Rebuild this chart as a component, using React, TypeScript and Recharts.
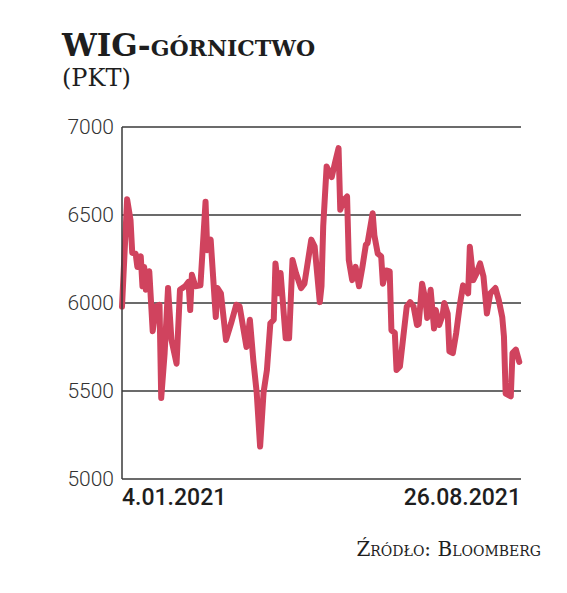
import { LineChart, Line, XAxis, YAxis, CartesianGrid } from 'recharts';

// trading-day offsets (calendar days since 4.01.2021) and index values in points
const days = [
  0, 3, 5, 6, 8, 9, 11, 12, 13, 14, 16, 18, 20, 22, 23, 25, 27, 29, 32, 34, 37, 39, 40, 41, 43, 46, 49, 50,
  52, 55, 56, 58, 61, 64, 67, 69, 71, 73, 75, 77, 79, 81, 83, 85, 87, 89, 90, 92, 93, 96, 98, 100, 102,
  105, 107, 111, 113, 116, 117, 118, 120, 123, 125, 127, 128, 130, 132, 133, 135, 137, 139, 141, 143, 144,
  147, 148, 150, 152, 153, 155, 157, 158, 160, 161, 163, 165, 167, 169, 171, 173, 174, 176, 178, 179, 181,
  183, 184, 186, 188, 189, 191, 192, 194, 196, 198, 200, 203, 204, 206, 208, 210, 212, 214, 216, 219, 221,
  223, 224, 225, 228, 229, 231, 233,
];
const values = [
  5980, 6590, 6470, 6285, 6280, 6205, 6265, 6095, 6205, 6075, 6180, 5840, 5980, 5990, 5460, 5715, 6085,
  5790, 5655, 6075, 6095, 6120, 5960, 6160, 6095, 6100, 6575, 6300, 6360, 5920, 6085, 6055, 5790, 5885,
  5990, 5980, 5865, 5750, 5905, 5675, 5490, 5185, 5490, 5620, 5885, 5905, 6225, 6055, 6170, 5800, 5800,
  6245, 6170, 6085, 6110, 6360, 6320, 6005, 6095, 6435, 6775, 6715, 6800, 6880, 6530, 6585, 6605, 6245,
  6130, 6205, 6095, 6205, 6330, 6340, 6510, 6385, 6280, 6265, 6110, 6185, 6180, 5845, 5830, 5620, 5640,
  5810, 5980, 6005, 5980, 5875, 5880, 6110, 6015, 5915, 6075, 5855, 5960, 5875, 5930, 6000, 5940, 5725,
  5715, 5830, 5980, 6100, 6055, 6320, 6130, 6170, 6225, 6150, 5940, 6055, 6085, 6015, 5920, 5810, 5485,
  5470, 5715, 5735, 5665,
];
const yTicks = [5000, 5500, 6000, 6500, 7000];
const xTicks = [0, 234];
const xLabels = ['4.01.2021', '26.08.2021'];

const data = days.map((d, i) => ({ day: d, pkt: values[i] }));

const XTick = ({ x, y, payload, index }: any) => (
  <text
    x={x}
    y={y + 18}
    textAnchor={index === 0 ? 'start' : 'end'}
    fontFamily="Roboto, sans-serif"
    fontWeight={500}
    fontSize={23}
    fill="#1e1e1e"
  >
    {xLabels[xTicks.indexOf(payload.value)]}
  </text>
);

const App = () => (
  <div style={{ position: 'absolute', left: 0, top: 0, width: 567, height: 593, background: '#fff' }}>
    <div
      style={{
        position: 'absolute',
        left: 62,
        top: 28,
        fontFamily: '"DejaVu Serif", serif',
        fontWeight: 700,
        fontSize: 31,
        lineHeight: '34px',
        color: '#1e1e1e',
        whiteSpace: 'nowrap',
      }}
    >
      WIG<span style={{ fontVariant: 'small-caps' }}>-górnictwo</span>
    </div>
    <div
      style={{
        position: 'absolute',
        left: 62,
        top: 63,
        fontFamily: '"DejaVu Serif", serif',
        fontSize: 24,
        lineHeight: '30px',
        color: '#1e1e1e',
      }}
    >
      (PKT)
    </div>
    <div style={{ position: 'absolute', left: 0, top: 0 }}>
      <LineChart width={567} height={593} data={data} margin={{ top: 127, right: 46, bottom: 74, left: 0 }}>
        <CartesianGrid vertical={false} stroke="#3a3a3a" strokeWidth={1.5} />
        <XAxis
          dataKey="day"
          type="number"
          domain={[0, 234]}
          ticks={xTicks}
          height={40}
          axisLine={false}
          tickLine={false}
          tick={<XTick />}
          interval={0}
        />
        <YAxis
          domain={[5000, 7000]}
          ticks={yTicks}
          width={122}
          axisLine={{ stroke: '#3a3a3a', strokeWidth: 1.5 }}
          tickLine={false}
          tickSize={0}
          tickMargin={8}
          tick={{ fontFamily: 'Roboto, sans-serif', fontWeight: 300, fontSize: 21, fill: '#333' }}
        />
        <Line
          type="linear"
          dataKey="pkt"
          stroke="#d0435e"
          strokeWidth={6}
          strokeLinejoin="round"
          strokeLinecap="round"
          dot={false}
          isAnimationActive={false}
        />
      </LineChart>
    </div>
    <div
      style={{
        position: 'absolute',
        right: 26,
        top: 537,
        fontFamily: '"DejaVu Serif", serif',
        fontSize: 20,
        lineHeight: '24px',
        color: '#1e1e1e',
        fontVariant: 'small-caps',
        whiteSpace: 'nowrap',
      }}
    >
      Źródło: Bloomberg
    </div>
  </div>
);

export default App;
